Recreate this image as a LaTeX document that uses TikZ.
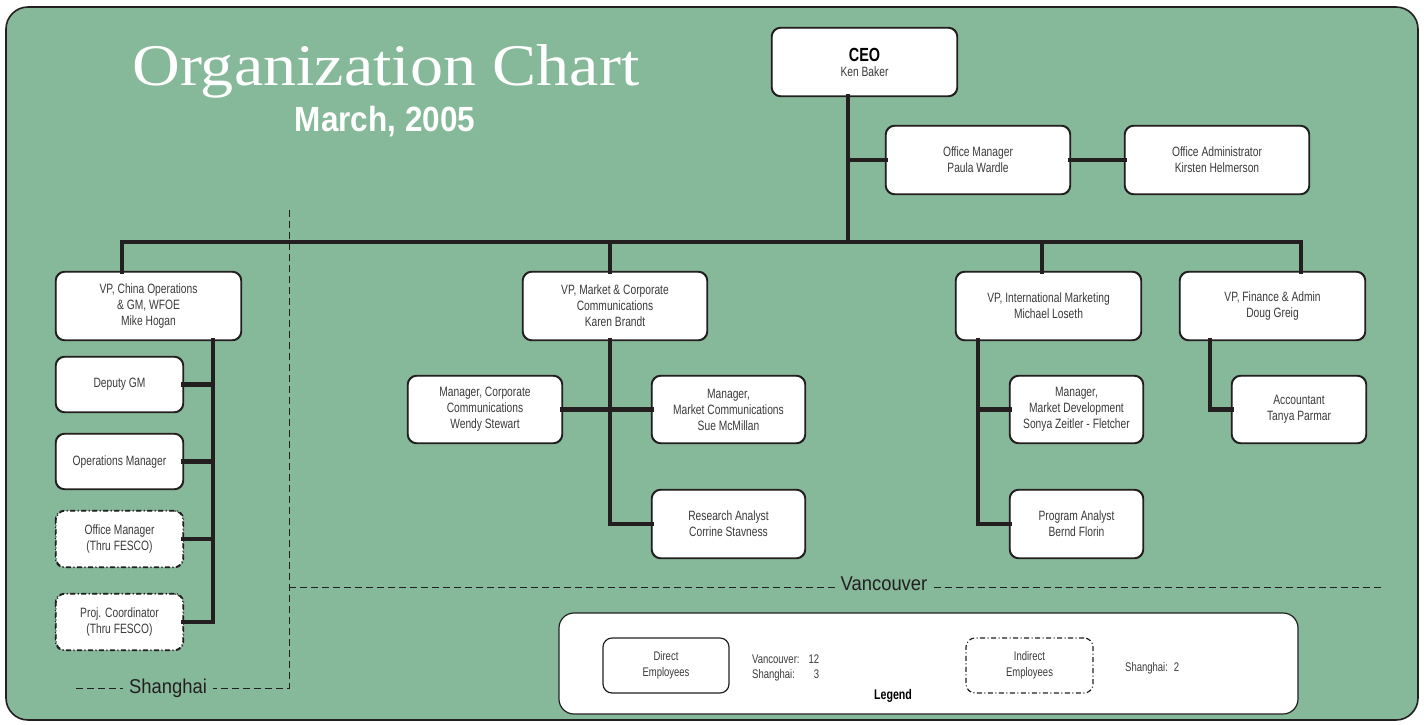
\documentclass[tikz,border=0pt]{standalone}
\usepackage{fontspec}
\newfontfamily\boxfont[FakeStretch=0.76]{Liberation Sans}
\newfontfamily\regfont[FakeStretch=0.92]{Liberation Sans}
\newfontfamily\datefont[FakeStretch=0.9]{Liberation Sans}
\newfontfamily\titlefont[FakeStretch=1.12]{Liberation Serif}
\definecolor{bggreen}{HTML}{86B89A}
\definecolor{txtgray}{HTML}{3A3A3A}
\definecolor{linek}{HTML}{231F20}
\tikzset{
  box/.style={draw=linek, fill=white, rounded corners=9pt, line width=1.2pt,
    text=txtgray, align=center, inner sep=0pt,
    font=\boxfont\fontsize{13.5}{16}\selectfont},
  dashbox/.style={box, dash pattern=on 5pt off 2.5pt on 1pt off 2.5pt},
  conn/.style={draw=linek, line width=4.8pt, line cap=rect, line join=miter},
  dline/.style={draw=linek, line width=1pt, dash pattern=on 7pt off 4pt},
  region/.style={text=linek, inner sep=6pt, font=\regfont\fontsize{20}{22}\selectfont},
  small/.style={font=\boxfont\fontsize{12.5}{15.5}\selectfont}
}
\begin{document}
\begin{tikzpicture}[x=1pt,y=-1pt]
\useasboundingbox (0,0) rectangle (1424,724);
\fill[white] (0,0) rectangle (1424,724);
\draw[fill=bggreen, draw=linek, line width=1.6pt, rounded corners=22pt] (6,7) rectangle (1418,720);

% title
\node[text=white, font=\titlefont\fontsize{59}{62}\selectfont, anchor=base] (title) at (386,85) {Organization Chart};
\node[text=white, font=\datefont\bfseries\fontsize{35}{38}\selectfont, anchor=base] (date) at (385,131) {March, 2005};

% coordinates
\coordinate (busL) at (122,242);
\coordinate (busR) at (1301,242);
\coordinate (cx) at (848,242);
\coordinate (mx) at (610,242);
\coordinate (ix) at (1042,242);
\coordinate (chv) at (213,622);
\coordinate (mkv) at (610,524);
\coordinate (inv) at (978,524);
\coordinate (fiv) at (1210,409.5);

% boxes
\path
 (864.5,62) node[box, minimum width=185pt, minimum height=68pt] (ceo)
   {{\fontsize{19}{21}\selectfont\bfseries\color{black}CEO}\\[-1pt]Ken Baker}
 (978,160) node[box, minimum width=184pt, minimum height=68pt] (om) {Office Manager\\Paula Wardle}
 (1217,160) node[box, minimum width=184pt, minimum height=68pt] (oa) {Office Administrator\\Kirsten Helmerson}
 (148.5,306) node[box, minimum width=185pt, minimum height=68pt] (vpc) {VP, China Operations\\\& GM, WFOE\\Mike Hogan}
 (615,306) node[box, minimum width=184pt, minimum height=68pt] (vpm) {VP, Market \& Corporate\\Communications\\Karen Brandt}
 (1048.5,306) node[box, minimum width=185pt, minimum height=68pt] (vpi) {VP, International Marketing\\Michael Loseth}
 (1272.5,306) node[box, minimum width=185pt, minimum height=68pt] (vpf) {VP, Finance \& Admin\\Doug Greig}
 (119.5,384.5) node[box, minimum width=127pt, minimum height=55pt] (dgm) {Deputy GM}
 (119.5,461.5) node[box, minimum width=127pt, minimum height=55pt] (opm) {Operations Manager}
 (119.5,539) node[dashbox, minimum width=127pt, minimum height=56pt] (ofm) {Office Manager\\(Thru FESCO)}
 (119.5,622) node[dashbox, minimum width=127pt, minimum height=56pt] (pc) {Proj. Coordinator\\(Thru FESCO)}
 (485,409.5) node[box, minimum width=154pt, minimum height=67pt] (mcc) {Manager, Corporate\\Communications\\Wendy Stewart}
 (728.5,409.5) node[box, minimum width=153pt, minimum height=67pt] (mmc) {Manager,\\Market Communications\\Sue McMillan}
 (728.5,524) node[box, minimum width=153pt, minimum height=68pt] (ra) {Research Analyst\\Corrine Stavness}
 (1076.5,409.5) node[box, minimum width=133pt, minimum height=67pt] (mmd) {Manager,\\Market Development\\Sonya Zeitler - Fletcher}
 (1076.5,524) node[box, minimum width=133pt, minimum height=68pt] (pa) {Program Analyst\\Bernd Florin}
 (1299,409.5) node[box, minimum width=134pt, minimum height=67pt] (acc) {Accountant\\Tanya Parmar};

% connectors
\draw[conn] (vpc.north -| busL) -- (busL) -- (busR) -- (vpf.north -| busR);
\draw[conn] (ceo.south -| cx) -- (cx);
\draw[conn] (om.west) -- (om.west -| cx);
\draw[conn] (om.east) -- (oa.west);
\draw[conn] (vpm.north -| mx) -- (mx);
\draw[conn] (vpi.north -| ix) -- (ix);
\draw[conn] (vpc.south -| chv) -- (chv) -- (pc.east);
\draw[conn] (dgm.east) -- (dgm.east -| chv);
\draw[conn] (opm.east) -- (opm.east -| chv);
\draw[conn] (ofm.east) -- (ofm.east -| chv);
\draw[conn] (vpm.south -| mkv) -- (mkv) -- (ra.west);
\draw[conn] (mcc.east) -- (mmc.west);
\draw[conn] (vpi.south -| inv) -- (inv) -- (pa.west);
\draw[conn] (mmd.west) -- (mmd.west -| inv);
\draw[conn] (vpf.south -| fiv) -- (fiv) -- (acc.west);

% box outlines on top of connector ends
\foreach \n in {ceo,om,oa,vpc,vpm,vpi,vpf,dgm,opm,mcc,mmc,ra,mmd,pa,acc}{
  \draw[box, fill=none] (\n.north west) rectangle (\n.south east);
}
\draw[dashbox, fill=none] (ofm.north west) rectangle (ofm.south east);
\draw[dashbox, fill=none] (pc.north west) rectangle (pc.south east);

% region lines
\node[region] (van) at (884,584) {Vancouver};
\node[region] (sha) at (168,688) {Shanghai};
\coordinate (dtop) at (289,210);
\coordinate (dcorner) at (289,688);
\coordinate (vleft) at (289,587);
\coordinate (vright) at (1382,587);
\coordinate (sleft) at (76,688);
\draw[dline] (dtop) -- (dcorner) -- (sha.east |- dcorner);
\draw[dline] (sleft) -- (sha.west |- sleft);
\draw[dline] (vleft) -- (van.west |- vleft);
\draw[dline] (van.east |- vright) -- (vright);

% legend
\node[draw=linek, fill=white, rounded corners=15pt, line width=1.2pt, minimum width=739pt, minimum height=101pt, inner sep=0pt] (legend) at (928.5,663.5) {};
\node[box, small, minimum width=126pt, minimum height=55pt] (de) at (666,665.5) {Direct\\Employees};
\node[dashbox, small, minimum width=127pt, minimum height=55pt] (ie) at (1029.5,665.5) {Indirect\\Employees};
\node[anchor=west, inner sep=0pt, text=txtgray, small] (cnt) at (752,668)
  {\begin{tabular}{@{}l@{\hspace{9pt}}r@{}}Vancouver: & 12\\Shanghai: & 3\end{tabular}};
\node[anchor=west, inner sep=0pt, text=txtgray, small] (cnt2) at (1125,668) {Shanghai:\hspace{6pt}2};
\node[inner sep=0pt, text=black, font=\boxfont\bfseries\fontsize{14}{16}\selectfont] (leg) at (893,696) {Legend};
\end{tikzpicture}
\end{document}
